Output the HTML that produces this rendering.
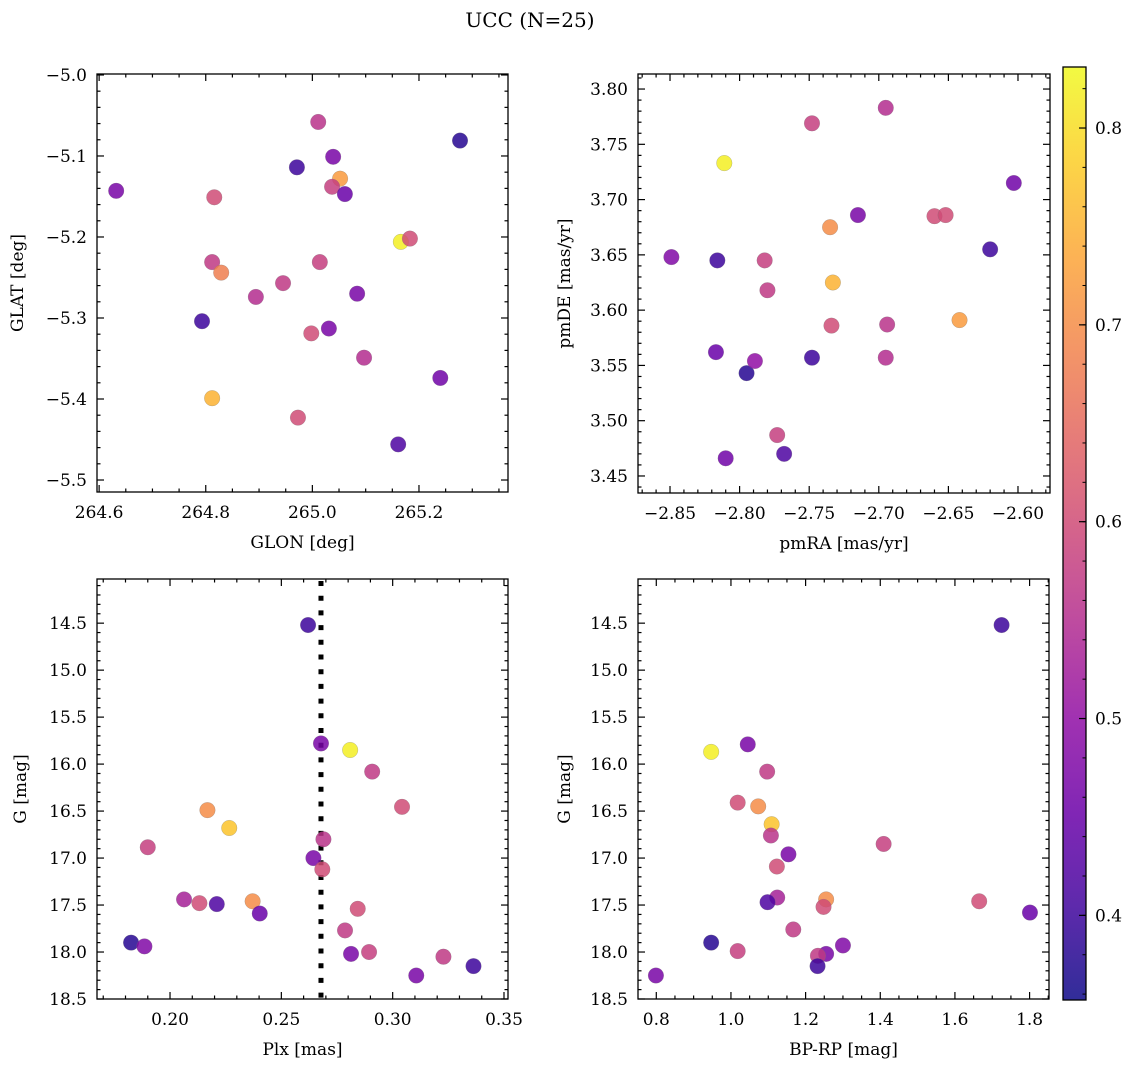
<!DOCTYPE html>
<html><head><meta charset="utf-8">
<style>
body{margin:0;background:#fff;}
svg{display:block;font-family:"DejaVu Serif","Liberation Serif",serif;}
</style></head>
<body>
<svg id="fig" width="1136" height="1067" viewBox="0 0 1136 1067" xmlns="http://www.w3.org/2000/svg">
<text x="530" y="27" text-anchor="middle" font-size="20">UCC (N=25)</text>
</svg>
<script>
// ---- data ----
const glon = [264.632,264.816,265.011,264.971,265.039,265.052,265.037,265.061,265.277,264.812,264.829,264.894,264.945,265.014,265.166,265.183,265.084,264.793,264.998,265.031,265.097,265.240,264.812,264.973,265.161];
const glat = [-5.143,-5.151,-5.058,-5.114,-5.101,-5.128,-5.138,-5.147,-5.081,-5.231,-5.244,-5.274,-5.257,-5.231,-5.206,-5.202,-5.270,-5.304,-5.319,-5.313,-5.349,-5.374,-5.399,-5.423,-5.456];
const cTL = [0.47,0.60,0.56,0.40,0.47,0.72,0.58,0.45,0.38,0.57,0.68,0.55,0.57,0.58,0.82,0.60,0.47,0.40,0.60,0.47,0.55,0.46,0.75,0.60,0.42];

const pmra = [-2.849,-2.816,-2.811,-2.817,-2.795,-2.789,-2.810,-2.773,-2.768,-2.782,-2.780,-2.748,-2.735,-2.733,-2.734,-2.748,-2.715,-2.695,-2.694,-2.695,-2.660,-2.652,-2.642,-2.620,-2.603];
const pmde = [3.648,3.645,3.733,3.562,3.543,3.554,3.466,3.487,3.470,3.645,3.618,3.769,3.675,3.625,3.586,3.557,3.686,3.783,3.587,3.557,3.685,3.686,3.591,3.655,3.715];
const cTR = [0.48,0.40,0.82,0.45,0.38,0.50,0.46,0.58,0.42,0.58,0.57,0.58,0.70,0.75,0.60,0.40,0.47,0.55,0.56,0.55,0.60,0.60,0.72,0.40,0.46];

const plx = [0.1825,0.1885,0.190,0.2063,0.2132,0.221,0.2168,0.2266,0.2371,0.2403,0.2644,0.2689,0.2684,0.2786,0.2843,0.2813,0.2894,0.3042,0.3106,0.3228,0.3363,0.262,0.2678,0.2809,0.2908];
const gBL = [17.90,17.94,16.885,17.44,17.48,17.49,16.49,16.68,17.46,17.59,17.00,16.80,17.12,17.77,17.54,18.02,18.00,16.455,18.25,18.05,18.15,14.52,15.78,15.85,16.08];
const cBL = [0.38,0.48,0.58,0.53,0.60,0.42,0.70,0.77,0.70,0.45,0.47,0.56,0.60,0.57,0.60,0.47,0.58,0.60,0.47,0.57,0.40,0.40,0.47,0.82,0.57];
const plxRef = 0.2678;

const bprp = [1.725,0.947,1.045,1.097,1.018,1.073,1.109,1.107,1.409,1.154,1.123,1.124,1.098,1.255,1.248,1.665,1.801,1.167,0.947,1.018,1.300,1.255,1.233,1.232,0.799];
const gBR = [14.52,15.87,15.79,16.08,16.41,16.45,16.64,16.76,16.85,16.96,17.09,17.42,17.47,17.44,17.52,17.46,17.58,17.76,17.90,17.99,17.93,18.02,18.04,18.15,18.25];
const cBR = [0.40,0.82,0.47,0.57,0.60,0.70,0.77,0.56,0.58,0.47,0.60,0.53,0.42,0.70,0.60,0.60,0.45,0.57,0.38,0.58,0.48,0.47,0.57,0.40,0.47];

const tlXTicks = ["264.6","264.8","265.0","265.2"];
const tlYTicks = ["−5.0","−5.1","−5.2","−5.3","−5.4","−5.5"];
const trXTicks = ["−2.85","−2.80","−2.75","−2.70","−2.65","−2.60"];
const trYTicks = ["3.45","3.50","3.55","3.60","3.65","3.70","3.75","3.80"];
const gTicks = ["14.5","15.0","15.5","16.0","16.5","17.0","17.5","18.0","18.5"];
const blXTicks = ["0.20","0.25","0.30","0.35"];
const brXTicks = ["0.8","1.0","1.2","1.4","1.6","1.8"];
const cbTicks = ["0.4","0.5","0.6","0.7","0.8"];
const cMin = 0.357, cMax = 0.831;

// ---- rendering ----
const NS = "http://www.w3.org/2000/svg";
const svg = document.getElementById('fig');
function mk(tag, attrs, parent){const e=document.createElementNS(NS,tag);for(const k in attrs)e.setAttribute(k,attrs[k]);(parent||svg).appendChild(e);return e;}
const stops=[[0,[13,8,135]],[0.1,[65,4,157]],[0.2,[106,0,168]],[0.3,[143,13,164]],[0.4,[177,42,144]],[0.5,[204,71,120]],[0.6,[225,100,98]],[0.7,[242,132,75]],[0.8,[252,166,54]],[0.9,[252,206,37]],[1,[240,249,33]]];
function plasma(t){t=Math.max(0,Math.min(1,t));for(let i=1;i<stops.length;i++){if(t<=stops[i][0]){const a=stops[i-1],b=stops[i];const f=(t-a[0])/(b[0]-a[0]);const c=a[1].map((v,j)=>Math.round(v+(b[1][j]-v)*f));return `rgb(${c[0]},${c[1]},${c[2]})`;}}return 'rgb(240,249,33)';}
function cmap(v){return plasma((v-cMin)/(cMax-cMin));}

function panel(p){
  const g=mk('g',{});
  
  
  const sx=v=>p.x0+(v-p.xmin)/(p.xmax-p.xmin)*(p.x1-p.x0);
  const sy=p.invert? (v=>p.y0+(v-p.ymin)/(p.ymax-p.ymin)*(p.y1-p.y0)) : (v=>p.y1-(v-p.ymin)/(p.ymax-p.ymin)*(p.y1-p.y0));
  // ticks
  const eps=1e-9;
  const tk=(x1,y1,x2,y2)=>mk('line',{x1,y1,x2,y2,stroke:'#000','stroke-width':1.2},g);
  for(let v=Math.ceil(p.xmin/p.xminor-eps)*p.xminor; v<=p.xmax+eps; v+=p.xminor){
    const isMaj=Math.abs(v/p.xmajor-Math.round(v/p.xmajor))<1e-6;const L=isMaj?7:3.5;const x=sx(v);
    tk(x,p.y1,x,p.y1-L);tk(x,p.y0,x,p.y0+L);
  }
  for(let v=Math.ceil(p.ymin/p.yminor-eps)*p.yminor; v<=p.ymax+eps; v+=p.yminor){
    const isMaj=Math.abs(v/p.ymajor-Math.round(v/p.ymajor))<1e-6;const L=isMaj?7:3.5;const y=sy(v);
    tk(p.x0,y,p.x0+L,y);tk(p.x1,y,p.x1-L,y);
  }
  p.xt.forEach(s=>{const v=parseFloat(s.replace('−','-'));const t=mk('text',{x:sx(v),y:p.y1+26,'text-anchor':'middle','font-size':17},g);t.textContent=s;
    
    });
  p.yt.forEach(s=>{const v=parseFloat(s.replace('−','-'));const t=mk('text',{x:p.x0-10,y:sy(v)+6,'text-anchor':'end','font-size':17},g);t.textContent=s;
    
    });
  // extra
  if(p.vline!==undefined){const l=mk('line',{x1:sx(p.vline),y1:p.y0+2,x2:sx(p.vline),y2:p.y1,stroke:'#000','stroke-width':5,'stroke-dasharray':'5,9.7'},g);
    
    }
  // points
  p.xs.forEach((xv,i)=>{const c=mk('circle',{cx:sx(xv),cy:sy(p.ys[i]),r:7.8,fill:cmap(p.cs[i]),'fill-opacity':0.85,stroke:'#777','stroke-width':0.4,'stroke-opacity':0.6},g);
    
    });
  const fr=mk('rect',{x:p.x0,y:p.y0,width:p.x1-p.x0,height:p.y1-p.y0,fill:'none',stroke:'#000','stroke-width':1.3},g);
  
  
  const xl=mk('text',{x:(p.x0+p.x1)/2,y:p.y1+56,'text-anchor':'middle','font-size':17},g);xl.textContent=p.xlabel;
  
  
  const yc=(p.y0+p.y1)/2;
  const yl=mk('text',{x:p.ylx,y:yc,'text-anchor':'middle','font-size':17,transform:`rotate(-90 ${p.ylx} ${yc})`},g);yl.textContent=p.ylabel;
  
  
}

panel({name:'glon-glat-panel',x0:97,x1:508,y0:74,y1:492,xmin:264.596,xmax:265.367,ymin:-5.5148,ymax:-4.9988,xmajor:0.2,xminor:0.05,ymajor:0.1,yminor:0.02,xt:tlXTicks,yt:tlYTicks,xs:glon,ys:glat,cs:cTL,xlabel:'GLON [deg]',ylabel:'GLAT [deg]',ylx:23});
panel({name:'proper-motion-panel',x0:638,x1:1050,y0:74,y1:493,xmin:-2.873,xmax:-2.577,ymin:3.4346,ymax:3.8136,xmajor:0.05,xminor:0.01,ymajor:0.05,yminor:0.01,xt:trXTicks,yt:trYTicks,xs:pmra,ys:pmde,cs:cTR,xlabel:'pmRA [mas/yr]',ylabel:'pmDE [mas/yr]',ylx:570});
panel({name:'plx-g-panel',x0:97,x1:508,y0:579,y1:999,xmin:0.1672,xmax:0.3518,ymin:14.03,ymax:18.5,invert:true,xmajor:0.05,xminor:0.01,ymajor:0.5,yminor:0.1,xt:blXTicks,yt:gTicks,xs:plx,ys:gBL,cs:cBL,vline:plxRef,xlabel:'Plx [mas]',ylabel:'G [mag]',ylx:26});
panel({name:'cmd-panel',x0:638,x1:1049,y0:579,y1:999,xmin:0.751,xmax:1.852,ymin:14.03,ymax:18.5,invert:true,xmajor:0.2,xminor:0.05,ymajor:0.5,yminor:0.1,xt:brXTicks,yt:gTicks,xs:bprp,ys:gBR,cs:cBR,xlabel:'BP-RP [mag]',ylabel:'G [mag]',ylx:570});

// colorbar
(function(){
  const x0=1063,x1=1086,y0=67,y1=1000;
  const g=mk('g',{});
  
  
  const defs=mk('defs',{},g);
  const lg=mk('linearGradient',{id:'cbg',x1:0,y1:1,x2:0,y2:0},defs);
  for(let i=0;i<=20;i++){mk('stop',{offset:i/20,'stop-color':plasma(i/20),'stop-opacity':0.85},lg);}
  const r=mk('rect',{x:x0,y:y0,width:x1-x0,height:y1-y0,fill:'url(#cbg)',stroke:'#000','stroke-width':1.3},g);
  
  
  const sy=v=>y1-(v-cMin)/(cMax-cMin)*(y1-y0);
  cbTicks.forEach(s=>{const v=parseFloat(s);const y=sy(v);
    mk('line',{x1:x1-7,y1:y,x2:x1,y2:y,stroke:'#000','stroke-width':1.2},g);
    const t=mk('text',{x:x1+9,y:y+6,'font-size':17},g);t.textContent=s;
    
    });
  for(let v=0.36;v<cMax;v+=0.02){const y=sy(v);mk('line',{x1:x1-3.5,y1:y,x2:x1,y2:y,stroke:'#000','stroke-width':1},g);}
})();
</script>
</body></html>
